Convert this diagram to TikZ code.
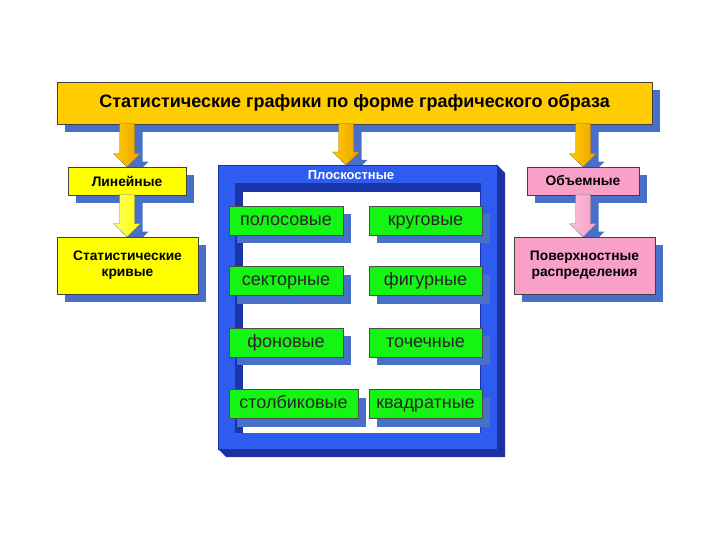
\documentclass[tikz,border=0pt]{standalone}
\usepackage{fontspec}
\setmainfont{Liberation Sans}
\usetikzlibrary{shadows,calc}
\pgfdeclarelayer{bg}
\pgfsetlayers{bg,main}
\definecolor{shb}{RGB}{72,112,200}
\definecolor{gold}{RGB}{255,204,0}
\definecolor{goldd}{RGB}{238,160,0}
\definecolor{yel}{RGB}{255,255,0}
\definecolor{pinkb}{RGB}{248,160,200}
\definecolor{grn}{RGB}{20,245,20}
\definecolor{pblue}{RGB}{46,92,240}
\definecolor{pside}{RGB}{28,48,160}
\definecolor{pdark}{RGB}{26,52,170}
\newcommand\blockarrow[3]{%
 \begin{pgfonlayer}{bg}
 \fill[shb] let \p1=#1,\p2=#2 in
  (\x1+0.5bp,\y1-8bp) -- (\x1+0.5bp,\y2+5bp) -- (\x1-5.5bp,\y2+5bp) -- (\x1+8bp,\y2-8bp)
  -- (\x1+21.5bp,\y2+5bp) -- (\x1+15.5bp,\y2+5bp) -- (\x1+15.5bp,\y1-8bp) -- cycle;
 \end{pgfonlayer}
 \path[#3] let \p1=#1,\p2=#2 in
  (\x1-7.5bp,\y1) -- (\x1-7.5bp,\y2+13bp) -- (\x1-13.5bp,\y2+13bp) -- (\x1,\y2)
  -- (\x1+13.5bp,\y2+13bp) -- (\x1+7.5bp,\y2+13bp) -- (\x1+7.5bp,\y1) -- cycle;
}
\tikzset{
 shd/.style={drop shadow={shadow xshift=8bp,shadow yshift=-8bp,fill=shb,opacity=1}},
 box/.style={draw=black!75,line width=0.6bp,align=center,inner sep=0pt,shd,
   font=\bfseries\fontsize{13.8bp}{16bp}\selectfont},
 gbox/.style={draw=black!70,line width=0.6bp,fill=grn,inner sep=0pt,shd,minimum height=29bp,
   text height=13bp,text depth=3.5bp,
   font=\fontsize{18bp}{20bp}\selectfont,text=black!85},
 arrgold/.style={left color=gold,right color=goldd,draw=goldd!70!black,line width=0.3bp},
 arryel/.style={left color=yel!60!white,right color=yel,draw=black!50,line width=0.3bp},
 arrpink/.style={left color=pinkb!70!white,right color=pinkb,draw=black!50,line width=0.3bp},
}
\begin{document}
\begin{tikzpicture}[x=1bp,y=-1bp]
\useasboundingbox (0,0) rectangle (720,540);
% banner
\node[box,fill=gold,minimum width=595bp,minimum height=42bp,
  font=\bfseries\fontsize{18bp}{20bp}\selectfont] (banner) at (354.5,103)
  {Статистические графики по форме графического образа};
% left branch
\node[box,fill=yel,minimum width=118bp,minimum height=28bp] (lin) at (127,181) {Линейные};
\node[box,fill=yel,minimum width=141bp,minimum height=57bp] (stat) at (127.5,265.5)
  {Статистические\\кривые};
% right branch
\node[box,fill=pinkb,minimum width=112bp,minimum height=28bp] (obj) at (583,181) {Объемные};
\node[box,fill=pinkb,minimum width=141bp,minimum height=57bp] (pov) at (584.5,265.5)
  {Поверхностные\\распределения};
% panel
\begin{pgfonlayer}{bg}
\fill[pside] (497,165) -- (505,173) -- (505,457) -- (226,457) -- (218,449) -- (497,449) -- cycle;
\end{pgfonlayer}
\node[draw=pside,line width=0.6bp,fill=pblue,minimum width=279bp,minimum height=284bp,inner sep=0pt]
  (panel) at (357.5,307) {};
\node[text=white,font=\bfseries\fontsize{13bp}{15bp}\selectfont] (ptitle) at (351,175) {Плоскостные};
\fill[pdark] (235,183) rectangle (481,433);
\fill[white] (243,192) rectangle (480,433);
\coordinate (ptop) at (346,165);
% green boxes
\node[gbox,minimum width=114bp] (g1) at (286,220.5) {полосовые};
\node[gbox,minimum width=113bp] (g2) at (425.5,220.5) {круговые};
\node[gbox,minimum width=114bp] (g3) at (286,281) {секторные};
\node[gbox,minimum width=113bp] (g4) at (425.5,281) {фигурные};
\node[gbox,minimum width=114bp] (g5) at (286,342.5) {фоновые};
\node[gbox,minimum width=113bp] (g6) at (425.5,342.5) {точечные};
\node[gbox,minimum width=129bp] (g7) at (293.5,404) {столбиковые};
\node[gbox,minimum width=113bp] (g8) at (425.5,404) {квадратные};
% arrows
\blockarrow{($(banner.south -| lin.north)+(0,-1)$)}{(lin.north)}{arrgold}
\blockarrow{($(banner.south -| ptop)+(0,-1)$)}{(ptop)}{arrgold}
\blockarrow{($(banner.south -| obj.north)+(0,-1)$)}{(obj.north)}{arrgold}
\blockarrow{($(lin.south)+(0,-1)$)}{(stat.north)}{arryel}
\blockarrow{($(obj.south)+(0,-1)$)}{(pov.north)}{arrpink}
\end{tikzpicture}
\end{document}
